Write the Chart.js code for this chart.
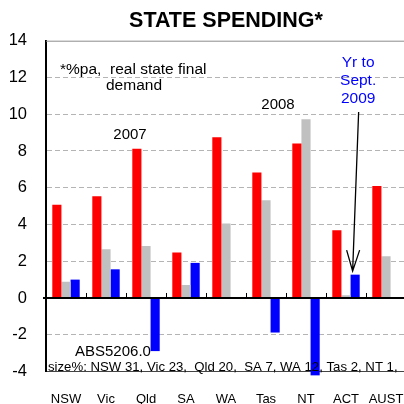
<!DOCTYPE html>
<html>
<head>
<meta charset="utf-8">
<script src="https://cdn.jsdelivr.net/npm/chart.js@4.4.1/dist/chart.umd.min.js"></script>
<style>
  html, body { margin: 0; padding: 0; background: #fff; }
  #wrap { width: 404px; height: 404px; overflow: hidden; position: relative; }
  canvas { display: block; }
</style>
</head>
<body>
<div id="wrap">
  <canvas id="stateChart" width="410" height="404" style="width:410px;height:404px"></canvas>
</div>
<script>
// state final demand, %pa real
var categories = ['NSW', 'Vic', 'Qld', 'SA', 'WA', 'Tas', 'NT', 'ACT', 'AUST'];
var spend2007 = [5.07, 5.54, 8.12, 2.47, 8.75, 6.83, 8.41, 3.69, 6.1];
var spend2008 = [0.89, 2.65, 2.83, 0.71, 4.05, 5.32, 9.72, 0.15, 2.27];
var spendSep2009 = [1.0, 1.56, -2.89, 1.91, -0.05, -1.88, -4.21, 1.27, 0.05];
var yMin = -4, yMax = 14, yStep = 2;

var FONT = '"Liberation Sans", Arial, sans-serif';

// zero line, category ticks, notes and the arrow
var notesPlugin = {
    id: 'notes',
    afterDatasetsDraw: function (chart) {
        var ctx = chart.ctx;
        var x = chart.scales.x, y = chart.scales.y;
        var area = chart.chartArea;
        var y0 = y.getPixelForValue(0);

        ctx.save();
        // top border
        ctx.strokeStyle = '#8c8c8c';
        ctx.lineWidth = 1;
        ctx.beginPath();
        ctx.moveTo(area.left, area.top + 0.5);
        ctx.lineTo(area.right, area.top + 0.5);
        ctx.stroke();

        // zero line
        ctx.strokeStyle = '#000';
        ctx.lineWidth = 2;
        ctx.beginPath();
        ctx.moveTo(area.left - 3, y0);
        ctx.lineTo(area.right, y0);
        ctx.stroke();

        // small ticks between categories
        ctx.lineWidth = 1;
        for (var i = 0; i < categories.length - 1; i++) {
            var bx = Math.round((x.getPixelForValue(i) + x.getPixelForValue(i + 1)) / 2) + 0.5;
            ctx.beginPath();
            ctx.moveTo(bx, y0 - 5);
            ctx.lineTo(bx, y0);
            ctx.stroke();
        }
        ctx.restore();
    },
    afterDraw: function (chart) {
        var ctx = chart.ctx;
        ctx.save();
        ctx.fillStyle = '#000';
        ctx.textBaseline = 'middle';

        ctx.font = '15.5px ' + FONT;
        ctx.textAlign = 'left';
        ctx.fillText('*%pa,  real state final', 60, 70);
        ctx.textAlign = 'center';
        ctx.fillText('demand', 134, 86);

        ctx.font = '15px ' + FONT;
        ctx.fillText('2007', 130, 135);
        ctx.fillText('2008', 278, 105);

        // label + arrow pointing at the ACT blue bar
        var actBar = chart.getDatasetMeta(2).data[7];
        var ax = actBar.x;
        ctx.fillStyle = '#0000ff';
        ctx.font = '15.5px ' + FONT;
        ctx.fillText('Yr to', ax + 3, 63);
        ctx.fillText('Sept.', ax + 3, 81);
        ctx.fillText('2009', ax + 3, 99);

        var tipX = ax - 2.5, tipY = actBar.y - 3.5;
        ctx.strokeStyle = '#000';
        ctx.lineWidth = 1.3;
        ctx.beginPath();
        ctx.moveTo(ax + 3.5, 112);
        ctx.lineTo(tipX, tipY);
        ctx.moveTo(tipX - 6, tipY - 21);
        ctx.lineTo(tipX, tipY);
        ctx.lineTo(tipX + 7, tipY - 21);
        ctx.stroke();

        ctx.fillStyle = '#000';
        ctx.textAlign = 'left';
        ctx.font = '15px ' + FONT;
        ctx.fillText('ABS5206.0', 75, 352);
        ctx.font = '13.2px ' + FONT;
        ctx.fillText('size%: NSW 31, Vic 23,  Qld 20,  SA 7, WA 12, Tas 2, NT 1,', 48, 367);
        ctx.restore();
    }
};

var chart = new Chart(document.getElementById('stateChart').getContext('2d'), {
    type: 'bar',
    data: {
        labels: categories,
        datasets: [
            { label: '2007', data: spend2007, backgroundColor: '#ff0000' },
            { label: '2008', data: spend2008, backgroundColor: '#c0c0c0' },
            { label: 'Yr to Sept. 2009', data: spendSep2009, backgroundColor: '#0000ff', clip: false }
        ]
    },
    options: {
        responsive: false,
        animation: false,
        devicePixelRatio: 1,
        layout: { padding: { top: 0, left: 0, right: 4, bottom: 0 } },
        datasets: {
            bar: { categoryPercentage: 0.685, barPercentage: 1.0, borderWidth: 0 }
        },
        plugins: {
            legend: { display: false },
            tooltip: { enabled: false },
            title: {
                display: true,
                text: 'STATE SPENDING*',
                fullSize: false,
                color: '#000',
                font: { family: FONT, size: 21.5, weight: 'bold', lineHeight: 1.2 },
                padding: { top: 8, bottom: 6.9 }
            }
        },
        scales: {
            x: {
                grid: { display: false, drawTicks: false },
                border: { display: true, color: '#444', width: 1 },
                ticks: {
                    color: '#000',
                    font: { family: FONT, size: 13 },
                    padding: 20.5,
                    maxRotation: 0,
                    autoSkip: false
                },
                afterFit: function (scale) {
                    scale.height = 32.5;
                    scale.paddingLeft = 0;
                    scale.paddingRight = 0;
                }
            },
            y: {
                min: yMin,
                max: yMax,
                grid: {
                    drawTicks: false,
                    color: function (c) {
                        var v = c.tick && c.tick.value;
                        return (v === 0 || v === yMax) ? 'rgba(0,0,0,0)' : '#b4b4b4';
                    },
                    lineWidth: 1
                },
                border: { display: true, color: '#000', width: 2, dash: [5, 3] },
                ticks: {
                    stepSize: yStep,
                    color: '#000',
                    font: { family: FONT, size: 16.5 },
                    padding: 19
                },
                afterFit: function (scale) {
                    scale.width = 46;
                    scale.paddingTop = 0;
                    scale.paddingBottom = 0;
                }
            }
        }
    },
    plugins: [notesPlugin]
});
</script>
</body>
</html>
